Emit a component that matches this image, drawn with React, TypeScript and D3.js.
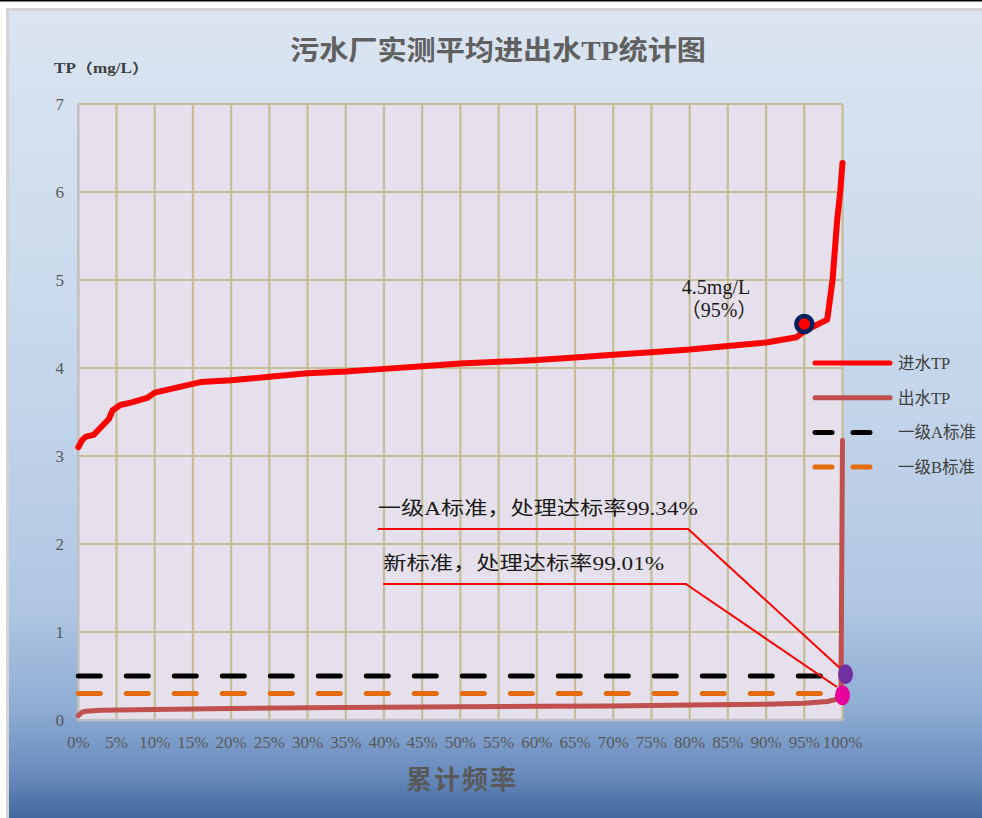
import React from "react";
import * as d3 from "d3";

// Cumulative frequency (%) and measured TP (mg/L)
const influentPct = [0, 0.5, 1, 2, 3, 4, 4.5, 5.5, 7, 9, 10, 12, 14, 16, 20, 25, 30, 35, 40, 45, 50, 55, 60, 65, 70, 75, 80, 85, 90, 94, 95, 98, 98.7, 99.3, 99.7, 100];
const influentTP = [3.1, 3.18, 3.22, 3.24, 3.33, 3.42, 3.52, 3.58, 3.61, 3.66, 3.72, 3.76, 3.8, 3.84, 3.86, 3.9, 3.94, 3.96, 3.99, 4.02, 4.05, 4.07, 4.09, 4.12, 4.15, 4.18, 4.21, 4.25, 4.29, 4.35, 4.42, 4.55, 5.0, 5.68, 6.0, 6.33];

const effluentPct = [0, 0.5, 1, 3, 10, 20, 30, 40, 50, 60, 70, 80, 90, 95, 98, 99.5, 99.8, 100];
const effluentTP = [0.05, 0.09, 0.1, 0.11, 0.12, 0.13, 0.14, 0.145, 0.15, 0.155, 0.16, 0.17, 0.18, 0.19, 0.21, 0.24, 0.27, 3.18];

// Discharge standards (mg/L)
const standardA = 0.5;
const standardB = 0.3;
const standardEndPct = 98;

const xTicks = d3.range(0, 101, 5);
const yTicks = d3.range(0, 8, 1);

const legendItems = [
  { name: "进水TP", color: "#FF0000", dash: "" },
  { name: "出水TP", color: "#C0504D", dash: "" },
  { name: "一级A标准", color: "#000000", dash: "17,21" },
  { name: "一级B标准", color: "#E46C0A", dash: "17,21" },
];

// 95th percentile of influent
const p95 = { pct: 95, value: 4.5 };

// Compliance callouts: text, leader line path (pct, value), end marker
const callouts = [
  { text: "一级A标准，处理达标率99.34%", path: [[39.2, 2.17], [79.8, 2.17], [99.65, 0.59]], marker: [100.4, 0.52], color: "#7030A0", width: 320 },
  { text: "新标准，处理达标率99.01%", path: [[39.9, 1.545], [79.5, 1.545], [99.27, 0.375]], marker: [100, 0.28], color: "#E8009C", width: 281 },
];

const FONT = "'Liberation Serif', 'Noto Sans CJK SC', serif";

export default function App() {
  const x = d3.scaleLinear().domain([0, 100]).range([78.3, 842.5]);
  const y = d3.scaleLinear().domain([0, 7]).range([720, 104]);

  const line = d3
    .line<[number, number]>()
    .x((d) => x(d[0]))
    .y((d) => y(d[1]))
    .curve(d3.curveLinear);

  const inflPts = influentPct.map((p, i) => [p, influentTP[i]] as [number, number]);
  const effPts = effluentPct.map((p, i) => [p, effluentTP[i]] as [number, number]);

  return (
    <svg
      width={982}
      height={818}
      style={{ position: "absolute", left: 0, top: 0 }}
      fontFamily={FONT}
    >
      <defs>
        <linearGradient id="bg" x1="0" y1="0" x2="0" y2="1">
          <stop offset="0" stopColor="#dbe5f1" />
          <stop offset="0.48" stopColor="#c4d5ea" />
          <stop offset="0.73" stopColor="#b0c6e2" />
          <stop offset="0.85" stopColor="#8fadd4" />
          <stop offset="0.93" stopColor="#6a8cbe" />
          <stop offset="1" stopColor="#3a5f93" />
        </linearGradient>
      </defs>
      <rect x={0} y={0} width={982} height={818} fill="#ffffff" />
      <rect x={0} y={0} width={982} height={1.5} fill="#000000" />
      <rect x={7.5} y={9.5} width={990} height={820} fill="url(#bg)" stroke="#d3d3d3" strokeWidth={3} />

      {/* title */}
      <text x={498} y={60} textAnchor="middle" fontSize={27} fontWeight="bold" fill="#606060" textLength={416} lengthAdjust="spacingAndGlyphs">
        污水厂实测平均进出水TP统计图
      </text>
      <text x={54} y={73} fontSize={14} fontWeight="bold" fill="#404040" textLength={95} lengthAdjust="spacingAndGlyphs">
        TP（mg/L）
      </text>

      {/* plot area */}
      <rect x={x(0)} y={y(7)} width={x(100) - x(0)} height={y(0) - y(7)} fill="#e6e0ec" />
      <g stroke="#c4bd97" strokeWidth={2.2}>
        {xTicks.filter((t) => t > 0).map((t) => (
          <line key={"gx" + t} x1={x(t)} x2={x(t)} y1={y(7)} y2={y(0)} />
        ))}
        {yTicks.filter((t) => t > 0).map((t) => (
          <line key={"gy" + t} x1={x(0)} x2={x(100)} y1={y(t)} y2={y(t)} />
        ))}
      </g>
      <line x1={x(0)} x2={x(0)} y1={y(7)} y2={y(0) + 1} stroke="#bfbfbf" strokeWidth={2.5} />
      <line x1={x(0)} x2={x(100) + 1} y1={y(0)} y2={y(0)} stroke="#bfbfbf" strokeWidth={2.5} />

      {/* tick labels */}
      <g fontSize={17} fill="#595959">
        {yTicks.map((t) => (
          <text key={"ty" + t} x={64} y={y(t) + 6} textAnchor="end">
            {t}
          </text>
        ))}
        {xTicks.map((t) => (
          <text key={"tx" + t} x={x(t)} y={748} textAnchor="middle">
            {t + "%"}
          </text>
        ))}
      </g>
      <text x={462} y={789} textAnchor="middle" fontSize={26} fontWeight="bold" fill="#595959" letterSpacing={2}>
        累计频率
      </text>

      {/* standards */}
      <line x1={x(0)} x2={x(standardEndPct)} y1={y(standardA)} y2={y(standardA)} stroke="#000000" strokeWidth={5} strokeDasharray="22,26" strokeLinecap="round" />
      <line x1={x(0)} x2={x(standardEndPct)} y1={y(standardB)} y2={y(standardB)} stroke="#E46C0A" strokeWidth={5} strokeDasharray="22,26" strokeLinecap="round" />

      {/* series */}
      <path d={line(effPts) || ""} fill="none" stroke="#C0504D" strokeWidth={5} strokeLinejoin="round" strokeLinecap="round" />
      <path d={line(inflPts) || ""} fill="none" stroke="#FF0000" strokeWidth={6} strokeLinejoin="round" strokeLinecap="round" />

      {/* 95th percentile marker */}
      <circle cx={x(p95.pct)} cy={y(p95.value)} r={8} fill="#FF0000" stroke="#002060" strokeWidth={4.5} />
      <g fontSize={20} fill="#1a1a1a" textAnchor="middle">
        <text x={716} y={294}>{p95.value + "mg/L"}</text>
        <text x={719} y={317}>{"（" + p95.pct + "%）"}</text>
      </g>

      {/* compliance callouts */}
      {callouts.map((c, i) => (
        <g key={"c" + i}>
          <path d={line(c.path as [number, number][]) || ""} fill="none" stroke="#FF0000" strokeWidth={2} />
          <text x={x(c.path[0][0])} y={y(c.path[0][1]) - 14} fontSize={19} fill="#1a1a1a" textLength={c.width} lengthAdjust="spacingAndGlyphs">
            {c.text}
          </text>
        </g>
      ))}
      {callouts.map((c, i) => (
        <ellipse key={"m" + i} cx={x(c.marker[0])} cy={y(c.marker[1])} rx={7.5} ry={10} fill={c.color} />
      ))}

      {/* legend */}
      {legendItems.map((d, i) => {
        const ly = 363 + i * 34.7;
        return (
          <g key={"lg" + i}>
            <line x1={815} x2={890} y1={ly} y2={ly} stroke={d.color} strokeWidth={5} strokeDasharray={d.dash || undefined} strokeLinecap="round" />
            <text x={898} y={ly + 6} fontSize={16.5} fill="#404040">
              {d.name}
            </text>
          </g>
        );
      })}
    </svg>
  );
}
